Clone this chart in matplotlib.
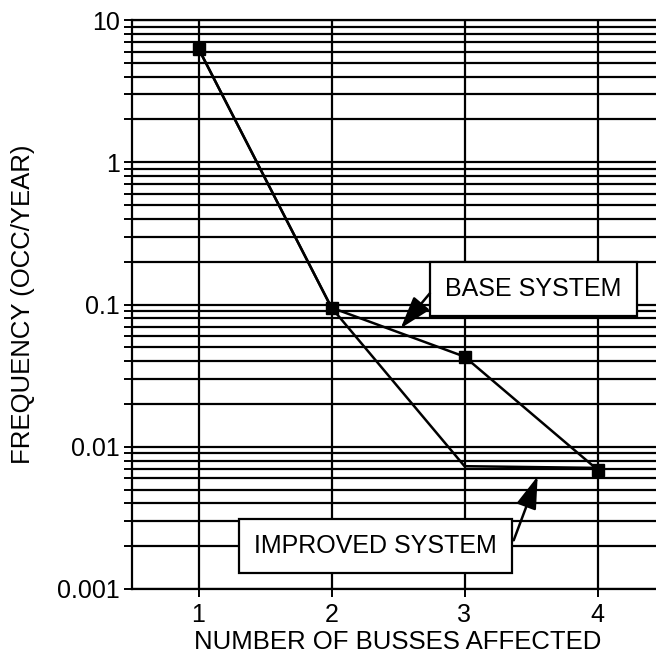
import numpy as np
import matplotlib.pyplot as plt
from matplotlib.ticker import LogLocator, FixedLocator, NullFormatter

plt.rcParams['font.family'] = ['Liberation Sans', 'DejaVu Sans']

# данные
busses = [1, 2, 3, 4]
base_freq = [6.3, 0.095, 0.043, 0.0069]
improved_freq = [6.3, 0.095, 0.0073, 0.0071]
ytick_vals = [0.001, 0.01, 0.1, 1, 10]
ytick_labels = ['0.001', '0.01', '0.1', '1', '10']

fig = plt.figure(figsize=(6.56, 6.53), dpi=100)
ax = fig.add_axes([132/656, 64/653, 532/656, 569/653])

ax.set_yscale('log')
ax.set(xlim=(0.5, 4.5), ylim=(0.001, 10))

ax.yaxis.set_major_locator(FixedLocator(ytick_vals))
ax.set_yticklabels(ytick_labels)
ax.yaxis.set_minor_locator(LogLocator(base=10, subs=np.arange(2, 10)))
ax.yaxis.set_minor_formatter(NullFormatter())
ax.set_xticks(busses)

ax.grid(True, which='both', axis='y', color='black', lw=1.6)
ax.grid(True, which='major', axis='x', color='black', lw=1.6)
for s in ax.spines.values():
    s.set_linewidth(1.6)

ax.tick_params(which='both', direction='out', length=6, width=1.4, labelsize=18)
ax.tick_params(axis='y', pad=3)
ax.tick_params(axis='x', pad=4)

ax.plot(busses, improved_freq, color='black', lw=1.8)
ax.plot(busses, base_freq, color='black', lw=1.8, marker='s', markersize=9)

ax.set_xlabel('NUMBER OF BUSSES AFFECTED', fontsize=18.5, labelpad=2)
ax.set_ylabel('FREQUENCY (OCC/YEAR)', fontsize=18.5, labelpad=16)

# подписи в рамках и стрелки
box = dict(boxstyle='square,pad=0.6', facecolor='white', edgecolor='black', lw=1.6)
arrow = dict(arrowstyle='-|>,head_length=1.1,head_width=0.35',
             color='black', lw=1.8, shrinkA=0, shrinkB=0, mutation_scale=18)

ax.text(3.52, 0.128, 'BASE SYSTEM', fontsize=18, ha='center', va='center',
        bbox=box, zorder=5)
ax.annotate('', xy=(2.52, 0.068), xytext=(2.74, 0.12), arrowprops=arrow, zorder=6)

ax.text(2.33, 0.002, 'IMPROVED SYSTEM', fontsize=18, ha='center', va='center',
        bbox=box, zorder=5)
ax.annotate('', xy=(3.55, 0.0062), xytext=(3.37, 0.0022), arrowprops=arrow, zorder=6)

fig.savefig('out.png', dpi=100)
